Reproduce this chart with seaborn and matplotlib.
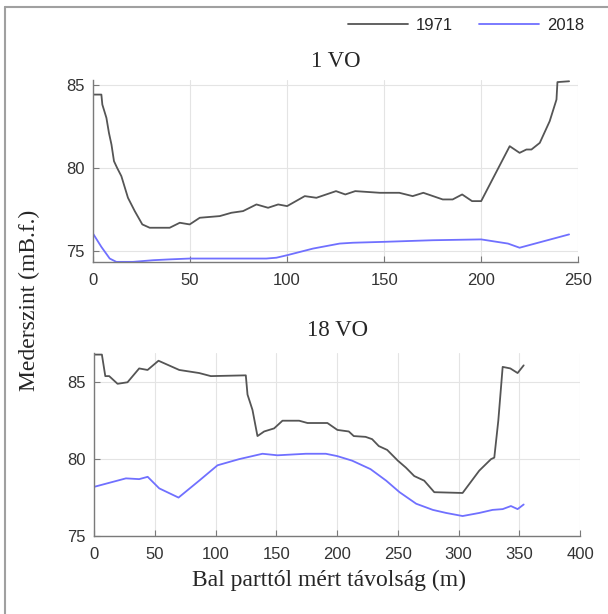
import matplotlib
matplotlib.use("Agg")
import matplotlib.pyplot as plt
from matplotlib.lines import Line2D
import pandas as pd
import seaborn as sns

# === DATA ===
# 1 VO cross-section
vo1_x_1971 = [0, 4.3, 4.8, 6.9, 8.2, 9.5, 10.8, 12.4, 14.6, 18.0, 21.5, 25.4, 29.2, 39.5, 44.7,
              49.8, 55.0, 65.3, 71.3, 77.3, 84.2, 90.2, 95.4, 100, 109.1, 115.1, 125.2, 130.0,
              135.1, 147.8, 157.8, 164.7, 170.2, 180.2, 185.3, 190.2, 195.3, 200, 214.7, 219.8,
              223.3, 225.9, 230.2, 235.3, 238.8, 239.3, 245.3]
vo1_y_1971 = [84.4, 84.4, 83.8, 83.0, 82.1, 81.4, 80.4, 80.0, 79.5, 78.2, 77.4, 76.6, 76.4, 76.4, 76.7,
              76.6, 77.0, 77.1, 77.3, 77.4, 77.8, 77.6, 77.8, 77.7, 78.3, 78.2, 78.6, 78.4,
              78.6, 78.5, 78.5, 78.3, 78.5, 78.1, 78.1, 78.4, 78.0, 78.0, 81.3, 80.9,
              81.1, 81.1, 81.5, 82.8, 84.1, 85.15, 85.2]
vo1_x_2018 = [0, 4.3, 8.6, 12, 20.6, 31, 39.5, 49.8, 70.4, 89.3, 94.5, 100, 113.4, 127.1, 134,
              149, 175, 200, 213.8, 219.8, 245.3]
vo1_y_2018 = [76.05, 75.25, 74.55, 74.35, 74.35, 74.45, 74.5, 74.55, 74.55, 74.55, 74.6, 74.75,
              75.15, 75.45, 75.5, 75.55, 75.65, 75.7, 75.45, 75.2, 76.0]

# 18 VO cross-section
vo18_x_1971 = [0, 6.3, 9.1, 12.3, 19.2, 27.4, 37, 43.9, 52.9, 70, 86.4, 96, 124.8, 126.2, 130.3,
               134.4, 139.9, 148.1, 155, 168.7, 175.6, 192, 200.2, 209.6, 213.7, 223.4, 228.8,
               234.3, 241.2, 250, 256.6, 263.5, 271.7, 280, 303.3, 317, 326.7, 329.4, 332.7,
               336.3, 342.6, 348.6, 353.6]
vo18_y_1971 = [86.8, 86.8, 85.4, 85.4, 84.9, 85.0, 85.9, 85.8, 86.4, 85.8, 85.6, 85.4, 85.45, 84.2, 83.2,
               81.5, 81.8, 82.0, 82.5, 82.5, 82.35, 82.35, 81.9, 81.8, 81.5, 81.45, 81.3,
               80.85, 80.6, 79.9, 79.45, 78.9, 78.6, 77.85, 77.8, 79.25, 80.0, 80.1, 82.5,
               86.0, 85.9, 85.6, 86.1]
vo18_x_2018 = [0, 26.1, 37, 44, 53.5, 69.4, 86.4, 101.5, 119.3, 138.5, 150.9, 174.2, 190.7, 200,
               212.4, 227.5, 240.4, 251.4, 265.1, 278.8, 289.8, 303.3, 317, 328, 336.3, 343.1,
               348.6, 353.6]
vo18_y_2018 = [78.2, 78.75, 78.7, 78.85, 78.1, 77.5, 78.6, 79.6, 80.0, 80.35, 80.25, 80.35, 80.35, 80.2,
               79.9, 79.35, 78.6, 77.85, 77.1, 76.7, 76.5, 76.3, 76.5, 76.7, 76.75, 76.95,
               76.75, 77.05]

years = ["1971", "2018"]
palette = {"1971": "#555555", "2018": "#7070ff"}


def long_df(x71, y71, x18, y18):
    a = pd.DataFrame({"x": x71, "y": y71, "year": "1971"})
    b = pd.DataFrame({"x": x18, "y": y18, "year": "2018"})
    return pd.concat([a, b], ignore_index=True)


sns.set_theme(style="ticks")
plt.rcParams["font.family"] = ["Liberation Sans", "DejaVu Sans"]
serif = ["Liberation Serif", "DejaVu Serif"]

fig = plt.figure(figsize=(6.08, 6.14), dpi=100)
ax1 = fig.add_axes([0.153, 0.5735, 0.798, 0.2955])
ax2 = fig.add_axes([0.155, 0.127, 0.799, 0.298])

panels = [
    (ax1, long_df(vo1_x_1971, vo1_y_1971, vo1_x_2018, vo1_y_2018), "1 VO", (0, 250), (74.35, 85.25), 10),
    (ax2, long_df(vo18_x_1971, vo18_y_1971, vo18_x_2018, vo18_y_2018), "18 VO", (0, 400), (75, 86.9), 12),
]

for ax, df, title, xlim, ylim, pad in panels:
    sns.lineplot(data=df, x="x", y="y", hue="year", palette=palette, sort=False,
                 estimator=None, linewidth=1.3, legend=False, ax=ax)
    ax.set_xlim(*xlim)
    ax.set_ylim(*ylim)
    ax.set_xticks(range(xlim[0], xlim[1] + 1, 50))
    ax.set_yticks([75, 80, 85])
    ax.grid(True, color="#e4e4e4", linewidth=0.8)
    ax.set_axisbelow(True)
    for s in ["top", "right"]:
        ax.spines[s].set_visible(False)
    for s in ["left", "bottom"]:
        ax.spines[s].set_color("#7a7a7a")
        ax.spines[s].set_linewidth(1.0)
    ax.tick_params(direction="in", length=4, width=0.8, color="#7a7a7a",
                   labelsize=12, labelcolor="#333333")
    ax.tick_params(axis="x", pad=8)
    ax.tick_params(axis="y", pad=6)
    ax.set_xlabel("")
    ax.set_ylabel("")
    ax.set_title(title, family=serif, fontsize=16.5, pad=pad)

fig.text(0.541, 0.055, "Bal parttól mért távolság (m)", family=serif, fontsize=17,
         ha="center", va="center")
fig.text(0.049, 0.511, "Mederszint (mB.f.)", family=serif, fontsize=17,
         rotation=90, ha="center", va="center")

handles = [Line2D([], [], color=palette[y], linewidth=1.3) for y in years]
fig.legend(handles, years, loc="center right", bbox_to_anchor=(0.985, 0.959), ncol=2,
           frameon=False, fontsize=12, handlelength=3.6, handletextpad=0.45,
           columnspacing=1.6)

# grey frame of the screenshot
fig.add_artist(Line2D([0.009, 0.009], [0, 0.989], color="#a0a0a0", linewidth=1.5))
fig.add_artist(Line2D([0.009, 1], [0.989, 0.989], color="#a0a0a0", linewidth=1.5))

fig.savefig("out.png", dpi=100)
